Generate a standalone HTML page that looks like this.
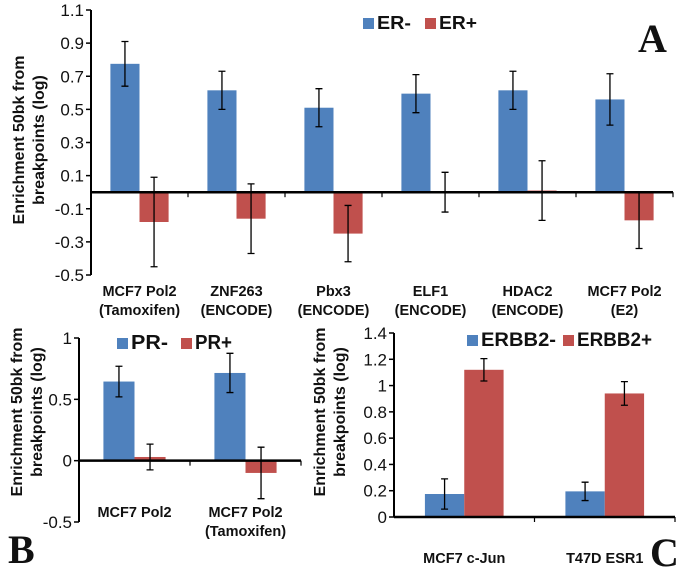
<!DOCTYPE html>
<html><head><meta charset="utf-8">
<style>
html,body{margin:0;padding:0;background:#fff;}
svg{display:block;font-family:"Liberation Sans",Arial,sans-serif;}
</style></head>
<body>
<svg id="fig" width="685" height="569" viewBox="0 0 685 569" xmlns="http://www.w3.org/2000/svg"></svg>
<script>
// Panel A data
const catsA = [["MCF7 Pol2","(Tamoxifen)"],["ZNF263","(ENCODE)"],["Pbx3","(ENCODE)"],["ELF1","(ENCODE)"],["HDAC2","(ENCODE)"],["MCF7 Pol2","(E2)"]];
const erNeg = [0.775, 0.615, 0.51, 0.595, 0.615, 0.56];
const erNegErr = [0.135, 0.115, 0.115, 0.115, 0.115, 0.155];
const erPos = [-0.18, -0.16, -0.25, 0.0, 0.01, -0.17];
const erPosErr = [0.27, 0.21, 0.17, 0.12, 0.18, 0.17];
const ticksA = [1.1, 0.9, 0.7, 0.5, 0.3, 0.1, -0.1, -0.3, -0.5];
const tickLabelsA = ["1.1","0.9","0.7","0.5","0.3","0.1","-0.1","-0.3","-0.5"];
// Panel B data
const catsB = [["MCF7 Pol2"],["MCF7 Pol2","(Tamoxifen)"]];
const prNeg = [0.645, 0.715];
const prNegErr = [0.125, 0.16];
const prPos = [0.03, -0.1];
const prPosErr = [0.105, 0.21];
const ticksB = [1, 0.5, 0, -0.5];
const tickLabelsB = ["1","0.5","0","-0.5"];
// Panel C data
const catsC = [["MCF7 c-Jun"],["T47D ESR1"]];
const erbbNeg = [0.175, 0.195];
const erbbNegErr = [0.115, 0.07];
const erbbPos = [1.12, 0.94];
const erbbPosErr = [0.085, 0.09];
const ticksC = [1.4, 1.2, 1, 0.8, 0.6, 0.4, 0.2, 0];
const tickLabelsC = ["1.4","1.2","1","0.8","0.6","0.4","0.2","0"];

const NS = "http://www.w3.org/2000/svg";
const svg = document.getElementById('fig');
const BLUE = "#4f81bd", RED = "#c0504d";
function mk(tag, attrs, parent, text){
  const e = document.createElementNS(NS, tag);
  for (const k in attrs) e.setAttribute(k, attrs[k]);
  if (text !== undefined) e.textContent = text;
  (parent || svg).appendChild(e);
  return e;
}

function panel(cfg){
  const g = mk('g', {});
  
  
  const y = v => cfg.yTop + (cfg.vMax - v) / (cfg.vMax - cfg.vMin) * (cfg.yBot - cfg.yTop);
  const n = cfg.cats.length;
  const cw = (cfg.xEnd - cfg.x0) / n;
  const bw = cw * cfg.barFrac;
  const ax = mk('line', {x1: cfg.x0, y1: y(cfg.vMax), x2: cfg.x0, y2: y(cfg.vMin), stroke: '#000', 'stroke-width': 2}, g);
  
  
  cfg.ticks.forEach((t, i) => {
    mk('line', {x1: cfg.x0 - 5, y1: y(t), x2: cfg.x0, y2: y(t), stroke: '#000', 'stroke-width': 1.5}, g);
    const tl = mk('text', {x: cfg.x0 - 7, y: y(t) + 6, 'text-anchor': 'end', 'font-size': 17, fill: '#111'}, g, cfg.tickLabels[i]);
    
    
  });
  cfg.cats.forEach((c, i) => {
    const cx = cfg.x0 + cw * (i + 0.5);
    [[cfg.s1, cfg.e1, BLUE, cx - bw], [cfg.s2, cfg.e2, RED, cx]].forEach(([s, e, col, bx], k) => {
      const v = s[i];
      const r = mk('rect', {x: bx, y: Math.min(y(v), y(0)), width: bw, height: Math.abs(y(v) - y(0)), fill: col}, g);
      
      
      const ex = bx + bw / 2;
      const eb = mk('path', {d: `M${ex},${y(v + e[i])}V${y(v - e[i])}M${ex - 3.5},${y(v + e[i])}h7M${ex - 3.5},${y(v - e[i])}h7`, stroke: '#000', 'stroke-width': 1.3, fill: 'none'}, g);
      
      
    });
    c.forEach((line, j) => {
      const cl = mk('text', {x: cx, y: cfg.labY + j * cfg.labDy, 'text-anchor': 'middle', 'font-size': 14.5, 'font-weight': 'bold', fill: '#111'}, g, line);
      
      
    });
  });
  const zl = mk('line', {x1: cfg.x0, y1: y(0), x2: cfg.xEnd, y2: y(0), stroke: '#000', 'stroke-width': 2.5}, g);
  
  
  for (let i = 1; i <= n; i++) mk('line', {x1: cfg.x0 + cw * i, y1: y(0), x2: cfg.x0 + cw * i, y2: y(0) + 5, stroke: '#000', 'stroke-width': 1.2}, g);
  const tt = mk('text', {transform: `translate(${cfg.titleX},${cfg.titleY}) rotate(-90)`, 'text-anchor': 'middle', 'font-size': 16, 'font-weight': 'bold', fill: '#111'}, g);
  
  
  mk('tspan', {x: 0, y: 0}, tt, 'Enrichment 50bk from');
  mk('tspan', {x: 0, y: 20}, tt, 'breakpoints (log)');
  const lg = mk('g', {}, g);
  
  
  [[cfg.leg1x, cfg.leg1w, BLUE, cfg.l1], [cfg.leg2x, cfg.leg2w, RED, cfg.l2]].forEach(([lx, lw, col, lab]) => {
    const e = mk('g', {}, lg);
    
    
    mk('rect', {x: lx, y: cfg.legY - 11, width: 11, height: 11, fill: col}, e);
    mk('text', {x: lx + 14, y: cfg.legY, 'font-size': cfg.legFs, 'font-weight': 'bold', fill: '#111', textLength: lw, lengthAdjust: 'spacingAndGlyphs'}, e, lab);
  });
  const pl = mk('text', {x: cfg.letX, y: cfg.letY, 'font-family': '"Liberation Serif",serif', 'font-size': 40, 'font-weight': 'bold', fill: '#111'}, g, cfg.letter);
  
  
}

panel({name: 'panel-a-chart', cats: catsA, s1: erNeg, e1: erNegErr, s2: erPos, e2: erPosErr,
  ticks: ticksA, tickLabels: tickLabelsA, vMax: 1.1, vMin: -0.5, yTop: 10, yBot: 275,
  x0: 91, xEnd: 673, barFrac: 0.3, labY: 296, labDy: 19, titleX: 24, titleY: 140,
  l1: 'ER-', l2: 'ER+', leg1x: 363, leg1w: 34, leg2x: 425, leg2w: 38, legY: 29, legFs: 18, letter: 'A', letX: 638, letY: 52});
panel({name: 'panel-b-chart', cats: catsB, s1: prNeg, e1: prNegErr, s2: prPos, e2: prPosErr,
  ticks: ticksB, tickLabels: tickLabelsB, vMax: 1, vMin: -0.5, yTop: 338, yBot: 522,
  x0: 79, xEnd: 301, barFrac: 0.28, labY: 517, labDy: 19, titleX: 22, titleY: 412,
  l1: 'PR-', l2: 'PR+', leg1x: 117, leg1w: 37, leg2x: 181, leg2w: 37, legY: 349, legFs: 20, letter: 'B', letX: 8, letY: 563});
panel({name: 'panel-c-chart', cats: catsC, s1: erbbNeg, e1: erbbNegErr, s2: erbbPos, e2: erbbPosErr,
  ticks: ticksC, tickLabels: tickLabelsC, vMax: 1.4, vMin: 0, yTop: 333, yBot: 517,
  x0: 394, xEnd: 675, barFrac: 0.28, labY: 563, labDy: 19, titleX: 325, titleY: 412,
  l1: 'ERBB2-', l2: 'ERBB2+', leg1x: 467, leg1w: 75, leg2x: 563, leg2w: 75, legY: 346, legFs: 19, letter: 'C', letX: 650, letY: 566});
</script>
</body></html>
